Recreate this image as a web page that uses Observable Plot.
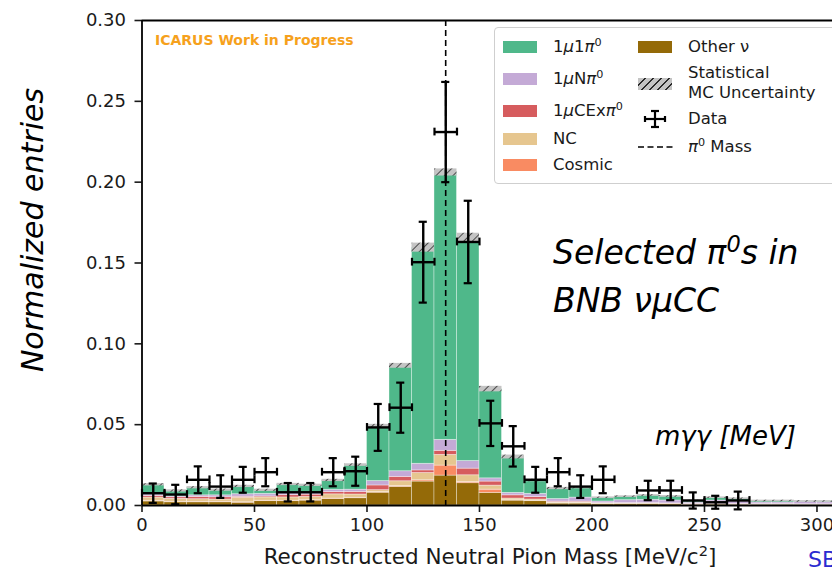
<!DOCTYPE html>
<html><head><meta charset="utf-8">
<script src="https://cdn.jsdelivr.net/npm/d3@7"></script>
<script src="https://cdn.jsdelivr.net/npm/@observablehq/plot@0.6"></script>
<style>
body{margin:0;background:#fff;overflow:hidden;}
#wrap{position:relative;width:832px;height:571px;overflow:hidden;font-family:"DejaVu Sans",sans-serif;color:#111;}
.ov{position:absolute;white-space:nowrap;line-height:1.2;}
.leg{position:absolute;white-space:nowrap;font-size:16.5px;line-height:20px;transform:translateY(-50%);color:#1a1a1a;}
.patch{position:absolute;width:34px;height:12px;transform:translateY(-50%);}
sup{font-size:0.68em;vertical-align:0.55em;line-height:0;}
.comic{font-family:"DejaVu Sans",sans-serif;font-style:oblique;color:#000;}
svg [aria-label$="tick"] path, svg .tick line{stroke-width:1.6px;}
</style></head><body><div id="wrap"></div><script>
// ---- data ----
const binLo   = [0,10,20,30,40,50,60,70,80,90,100,110,120,130,140,150,160,170,180,190,200,210,220,230,240,250,260,270,280,290,300];
const binWidth = 10;
const otherNu = [0.0025,0.0020,0.0020,0.0020,0.0017,0.0027,0.0027,0.0030,0.0040,0.0045,0.0079,0.0115,0.0148,0.0185,0.0138,0.0078,0.0030,0.0027,0.0012,0.0012,0.0008,0.0010,0.0010,0.0008,0.0005,0.0006,0.0005,0.0004,0.0004,0.0003,0.0003];
const cosmic  = [0.0004,0.0003,0.0003,0.0003,0.0003,0.0003,0.0003,0.0003,0.0003,0.0003,0.0004,0.0005,0.0008,0.0062,0.0008,0.0020,0.0003,0.0002,0.0002,0.0002,0.0001,0.0001,0.0001,0.0001,0.0001,0.0001,0.0001,0.0001,0.0001,0.0001,0.0001];
const ncVals  = [0.0020,0.0018,0.0016,0.0014,0.0028,0.0020,0.0020,0.0020,0.0026,0.0020,0.0012,0.0030,0.0045,0.0066,0.0041,0.0025,0.0010,0.0008,0.0005,0.0005,0.0003,0.0002,0.0002,0.0002,0.0002,0.0002,0.0002,0.0002,0.0002,0.0002,0.0002];
const cexPi0  = [0.0010,0.0010,0.0014,0.0014,0.0006,0.0006,0.0014,0.0014,0.0014,0.0016,0.0029,0.0027,0.0016,0.0025,0.0041,0.0025,0.0020,0.0015,0.0005,0.0005,0.0003,0.0002,0.0002,0.0002,0.0002,0.0002,0.0002,0.0002,0.0002,0.0002,0.0002];
const nPi0    = [0.0010,0.0006,0.0010,0.0012,0.0016,0.0016,0.0020,0.0012,0.0014,0.0014,0.0027,0.0035,0.0041,0.0068,0.0047,0.0020,0.0015,0.0020,0.0016,0.0025,0.0010,0.0018,0.0020,0.0018,0.0008,0.0020,0.0015,0.0010,0.0010,0.0015,0.0012];
const onePi0  = [0.0059,0.0033,0.0047,0.0032,0.0048,0.0022,0.0046,0.0046,0.0058,0.0152,0.0339,0.0652,0.1337,0.1654,0.1381,0.0552,0.0222,0.0083,0.0065,0.0061,0.0023,0.0022,0.0027,0.0025,0.0010,0.0017,0.0017,0.0009,0.0009,0.0002,0.0005];
const mcStatErr = [0.0007,0.0007,0.0007,0.0007,0.0007,0.0007,0.0007,0.0007,0.0007,0.0008,0.0012,0.0015,0.0028,0.0022,0.0028,0.0017,0.0012,0.0008,0.0007,0.0007,0.0005,0.0005,0.0005,0.0005,0.0005,0.0005,0.0005,0.0005,0.0005,0.0005,0.0005];
const dataVal = [0.0076,0.0068,0.0159,0.0117,0.0159,0.0206,0.0082,0.0082,0.0206,0.0212,0.0483,0.0605,0.1505,0.2310,0.1630,0.0508,0.0366,0.0159,0.0206,0.0117,0.0159,null,0.0093,0.0093,0.0031,0.0020,0.0031,null,null,null,null];
const dataErr = [0.0060,0.0060,0.0083,0.0070,0.0080,0.0087,0.0057,0.0057,0.0087,0.0090,0.0145,0.0155,0.0250,0.0310,0.0255,0.0140,0.0125,0.0080,0.0087,0.0070,0.0083,null,0.0060,0.0060,0.0050,0.0040,0.0055,null,null,null,null];
const pi0Mass = 134.98;
const xTicks = [0,50,100,150,200,250,300];
const yTicks = [0,0.05,0.10,0.15,0.20,0.25,0.30];
const cats   = ["Other ν","Cosmic","NC","1μCExπ0","1μNπ0","1μ1π0"];
const colors = ["#946a08","#f98b62","#e6c68f","#d65c5e","#c4aad6","#4fb88a"];

// ---- build tables ----
const series = [otherNu, cosmic, ncVals, cexPi0, nPi0, onePi0];
const rects = [], bands = [], pts = [];
binLo.forEach((lo, i) => {
  let acc = 0;
  series.forEach((s, k) => {
    rects.push({x1: lo, x2: lo + binWidth, y1: acc, y2: acc + s[i], cat: cats[k]});
    acc += s[i];
  });
  bands.push({x1: lo, x2: lo + binWidth, y1: acc - mcStatErr[i], y2: acc + mcStatErr[i]});
  if (dataVal[i] != null) pts.push({lo, hi: lo + binWidth, c: lo + binWidth / 2, v: dataVal[i], e: dataErr[i]});
});
const capX = 1.8, capY = 0.0024;

const plot = Plot.plot({
  width: 832, height: 571,
  marginLeft: 141.5, marginRight: 0, marginTop: 20, marginBottom: 66,
  x: {domain: [0, 306.9], ticks: xTicks, tickSize: 7, tickPadding: 6, label: null, tickFormat: d => String(d)},
  y: {domain: [0, 0.30], ticks: yTicks, tickSize: 7, tickPadding: 9, label: null, tickFormat: d => d.toFixed(2)},
  color: {domain: cats, range: colors},
  style: {fontFamily: "DejaVu Sans", fontSize: "18px", color: "#1a1a1a", background: "white"},
  marks: [
    Plot.rect(rects, {x1: "x1", x2: "x2", y1: "y1", y2: "y2", fill: "cat", stroke: "white", strokeOpacity: 0.45, strokeWidth: 0.8}),
    Plot.rect(bands, {x1: "x1", x2: "x2", y1: "y1", y2: "y2", fill: "url(#hatch)"}),
    Plot.ruleX([pi0Mass], {stroke: "black", strokeWidth: 1.6, strokeDasharray: "6,4"}),
    Plot.ruleY(pts, {x1: "lo", x2: "hi", y: "v", stroke: "black", strokeWidth: 2.4}),
    Plot.ruleX(pts, {x: "c", y1: d => d.v - d.e, y2: d => d.v + d.e, stroke: "black", strokeWidth: 2.4}),
    Plot.ruleY(pts, {x1: d => d.c - capX, x2: d => d.c + capX, y: d => d.v + d.e, stroke: "black", strokeWidth: 2.2}),
    Plot.ruleY(pts, {x1: d => d.c - capX, x2: d => d.c + capX, y: d => d.v - d.e, stroke: "black", strokeWidth: 2.2}),
    Plot.ruleX(pts, {x: "lo", y1: d => d.v - capY, y2: d => d.v + capY, stroke: "black", strokeWidth: 2.2}),
    Plot.ruleX(pts, {x: "hi", y1: d => d.v - capY, y2: d => d.v + capY, stroke: "black", strokeWidth: 2.2}),
    Plot.ruleY([0], {stroke: "black", strokeWidth: 1.8}),
    Plot.ruleY([0.30], {stroke: "black", strokeWidth: 1.8}),
    Plot.ruleX([0], {stroke: "black", strokeWidth: 1.8})
  ]
});
d3.select(plot).insert("defs", ":first-child").html(
  '<pattern id="hatch" patternUnits="userSpaceOnUse" width="6" height="6" patternTransform="rotate(45)">' +
  '<rect width="6" height="6" fill="#c4c4c4"/><line x1="0" y1="0" x2="0" y2="6" stroke="#2a2a2a" stroke-width="1.6"/></pattern>');
plot.style.position = "absolute"; plot.style.left = "0"; plot.style.top = "0";
const wrap = document.getElementById("wrap");
wrap.appendChild(plot);

function ov(html, css, cls = "ov") {
  const d = document.createElement("div");
  d.className = cls; d.innerHTML = html; d.style.cssText += css; wrap.appendChild(d); return d;
}
// annotations
ov("ICARUS Work in Progress", "left:155px;top:32px;font-size:14px;font-weight:bold;color:#f6a11c;");
ov("Normalized entries", "left:33px;top:230px;font-size:30px;transform:translate(-50%,-50%) rotate(-90deg);", "ov comic");
ov("Selected <i>π</i><sup>0</sup>s in", "left:553px;top:233px;font-size:33px;", "ov comic");
ov("BNB <i>νμ</i>CC", "left:553px;top:281px;font-size:33px;", "ov comic");
ov("<i>mγγ</i> [MeV]", "left:655px;top:421px;font-size:26px;", "ov comic");
ov("Reconstructed Neutral Pion Mass [MeV/c<sup>2</sup>]", "left:490px;top:557px;font-size:21.5px;transform:translate(-50%,-50%);color:#1a1a1a;");
ov("SBN", "left:808px;top:547px;font-size:22px;color:#2b2bd0;");

// legend
ov("", "left:494px;top:27px;width:360px;height:155px;border:1px solid #cfcfcf;border-radius:4px;background:rgba(255,255,255,0.85);");
const leg1 = [
  {html: '1<i>μ</i>1<i>π</i><sup>0</sup>', c: colors[5], y: 47},
  {html: '1<i>μ</i>N<i>π</i><sup>0</sup>', c: colors[4], y: 79},
  {html: '1<i>μ</i>CEx<i>π</i><sup>0</sup>', c: colors[3], y: 111},
  {html: 'NC', c: colors[2], y: 139},
  {html: 'Cosmic', c: colors[1], y: 165}
];
leg1.forEach(it => {
  ov("", `left:503px;top:${it.y}px;background:${it.c};`, "patch");
  ov(it.html, `left:553px;top:${it.y}px;`, "leg");
});
ov("", `left:638px;top:47px;background:${colors[0]};`, "patch");
ov("Other ν", "left:688px;top:47px;", "leg");
ov("", "left:638px;top:84px;background:repeating-linear-gradient(-45deg,#c4c4c4 0 4px,#2a2a2a 4px 5.6px);", "patch");
ov("Statistical<br>MC Uncertainty", "left:688px;top:83px;line-height:20px;", "leg");
ov('<svg width="36" height="20"><g stroke="#000" stroke-width="2.2"><line x1="8" y1="10" x2="28" y2="10"/><line x1="18" y1="2" x2="18" y2="18"/><line x1="14" y1="2" x2="22" y2="2"/><line x1="14" y1="18" x2="22" y2="18"/><line x1="8" y1="7" x2="8" y2="13"/><line x1="28" y1="7" x2="28" y2="13"/></g></svg>', "left:637px;top:119px;line-height:0;transform:translateY(-50%);");
ov("Data", "left:688px;top:119px;", "leg");
ov('<svg width="36" height="6"><line x1="0" y1="3" x2="35" y2="3" stroke="#000" stroke-width="1.6" stroke-dasharray="6,3.5"/></svg>', "left:638px;top:147px;line-height:0;transform:translateY(-50%);");
ov('<i>π</i><sup>0</sup> Mass', "left:688px;top:147px;", "leg");
</script></body></html>
